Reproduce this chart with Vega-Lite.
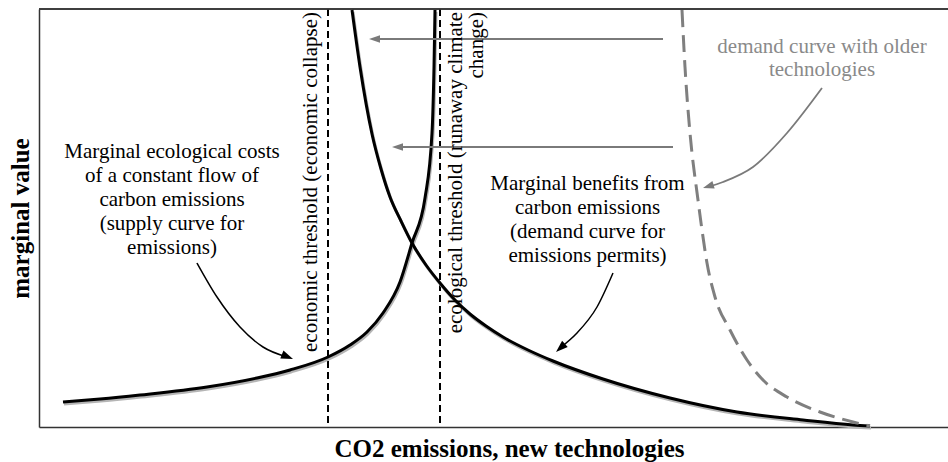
{
  "$schema": "https://vega.github.io/schema/vega-lite/v6.json",
  "width": 909,
  "height": 418,
  "autosize": {"type": "none"},
  "padding": {"left": 39, "top": 9, "right": 0, "bottom": 35},
  "background": "white",
  "config": {
    "view": {"stroke": null},
    "font": "Times New Roman, Liberation Serif, serif",
    "axis": {
      "grid": false, "ticks": false, "labels": false,
      "domainColor": "#333333", "domainWidth": 1.5,
      "titleFont": "Times New Roman, Liberation Serif, serif", "titleFontSize": 25, "titleFontWeight": "bold", "titleColor": "#000000"
    },
    "axisX": {"titleX": 470, "titleY": 29, "titleAlign": "center", "titleBaseline": "alphabetic"},
    "axisY": {"titleX": -19, "titleY": 209, "titleAngle": 270, "titleAlign": "center", "titleBaseline": "middle"}
  },
  "datasets": {
    "curves": [
      {"series": "supply", "x": 24, "y": 25}, {"series": "supply", "x": 61, "y": 28}, {"series": "supply", "x": 101, "y": 32},
      {"series": "supply", "x": 168, "y": 40}, {"series": "supply", "x": 218, "y": 49}, {"series": "supply", "x": 251, "y": 57},
      {"series": "supply", "x": 289, "y": 70}, {"series": "supply", "x": 311, "y": 82}, {"series": "supply", "x": 328, "y": 95},
      {"series": "supply", "x": 344, "y": 114}, {"series": "supply", "x": 361, "y": 145}, {"series": "supply", "x": 373, "y": 184},
      {"series": "supply", "x": 386, "y": 229}, {"series": "supply", "x": 393, "y": 294}, {"series": "supply", "x": 395, "y": 360},
      {"series": "supply", "x": 396, "y": 417},
      {"series": "demand", "x": 313, "y": 417}, {"series": "demand", "x": 321, "y": 360}, {"series": "demand", "x": 333, "y": 293},
      {"series": "demand", "x": 342, "y": 258}, {"series": "demand", "x": 351, "y": 230}, {"series": "demand", "x": 362, "y": 206},
      {"series": "demand", "x": 373, "y": 184}, {"series": "demand", "x": 387, "y": 162}, {"series": "demand", "x": 401, "y": 144},
      {"series": "demand", "x": 416, "y": 127}, {"series": "demand", "x": 431, "y": 113}, {"series": "demand", "x": 447, "y": 101},
      {"series": "demand", "x": 464, "y": 90}, {"series": "demand", "x": 489, "y": 77}, {"series": "demand", "x": 514, "y": 66},
      {"series": "demand", "x": 564, "y": 48}, {"series": "demand", "x": 631, "y": 29}, {"series": "demand", "x": 698, "y": 15},
      {"series": "demand", "x": 764, "y": 7}, {"series": "demand", "x": 814, "y": 2}, {"series": "demand", "x": 831, "y": 1},
      {"series": "older", "x": 643, "y": 417}, {"series": "older", "x": 646, "y": 360}, {"series": "older", "x": 651, "y": 294},
      {"series": "older", "x": 659, "y": 227}, {"series": "older", "x": 663, "y": 197}, {"series": "older", "x": 668, "y": 164},
      {"series": "older", "x": 676, "y": 130}, {"series": "older", "x": 691, "y": 97}, {"series": "older", "x": 708, "y": 67},
      {"series": "older", "x": 724, "y": 47}, {"series": "older", "x": 748, "y": 30}, {"series": "older", "x": 781, "y": 15},
      {"series": "older", "x": 814, "y": 5}, {"series": "older", "x": 831, "y": 1}
    ],
    "thresholds": [{"name": "economic", "x": 289}, {"name": "ecological", "x": 401}],
    "arrows": [
      {"arrow": "h1", "x": 624, "y": 388}, {"arrow": "h1", "x": 336, "y": 388},
      {"arrow": "h2", "x": 634, "y": 280}, {"arrow": "h2", "x": 359, "y": 280},
      {"arrow": "g", "x": 783, "y": 339}, {"arrow": "g", "x": 748, "y": 294}, {"arrow": "g", "x": 714, "y": 260}, {"arrow": "g", "x": 684, "y": 245}, {"arrow": "g", "x": 669, "y": 240},
      {"arrow": "s", "x": 158, "y": 164}, {"arrow": "s", "x": 178, "y": 130}, {"arrow": "s", "x": 201, "y": 100}, {"arrow": "s", "x": 224, "y": 80}, {"arrow": "s", "x": 248, "y": 70},
      {"arrow": "d", "x": 574, "y": 154}, {"arrow": "d", "x": 558, "y": 120}, {"arrow": "d", "x": 538, "y": 94}, {"arrow": "d", "x": 521, "y": 79}
    ],
    "heads": [
      {"arrow": "h1", "x": 330, "y": 388, "angle": 0},
      {"arrow": "h2", "x": 353, "y": 280, "angle": 0},
      {"arrow": "g", "x": 664, "y": 239, "angle": -17},
      {"arrow": "s", "x": 254, "y": 68, "angle": 202},
      {"arrow": "d", "x": 517, "y": 75, "angle": -42}
    ],
    "labels": [
      {"x": 133, "y": 269, "text": "Marginal ecological costs\nof a constant flow of\ncarbon emissions\n(supply curve for\nemissions)"},
      {"x": 548.5, "y": 237, "text": "Marginal benefits from\ncarbon emissions\n(demand curve for\nemissions permits)"}
    ],
    "graylabels": [
      {"x": 783, "y": 374, "text": "demand curve with older\ntechnologies"}
    ],
    "vlabels": [
      {"x": 278, "y": 415, "text": "economic threshold (economic collapse)"},
      {"x": 423, "y": 415, "text": "ecological threshold (runaway climate\nchange)"}
    ]
  },
  "layer": [
    {
      "data": {"name": "thresholds"},
      "mark": {"type": "rule", "color": "#000000", "strokeWidth": 2, "strokeDash": [7, 4]},
      "encoding": {
        "x": {"field": "x", "type": "quantitative", "scale": {"domain": [0, 909], "nice": false, "zero": false}, "title": "CO2 emissions, new technologies"}
      }
    },
    {
      "data": {"name": "thresholds"},
      "mark": {"type": "rule", "color": "#333333", "strokeWidth": 1.5},
      "encoding": {
        "y": {"datum": 418, "type": "quantitative", "scale": {"domain": [0, 418], "nice": false, "zero": false}, "title": "marginal value"}
      }
    },
    {
      "data": {"name": "curves"},
      "transform": [{"filter": "datum.series !== 'older'"}],
      "mark": {"type": "line", "color": "#b5b5b5", "strokeWidth": 3, "interpolate": "monotone", "xOffset": 1, "yOffset": 2},
      "encoding": {
        "x": {"field": "x", "type": "quantitative", "scale": {"domain": [0, 909], "nice": false, "zero": false}, "title": "CO2 emissions, new technologies"},
        "y": {"field": "y", "type": "quantitative", "scale": {"domain": [0, 418], "nice": false, "zero": false}, "title": "marginal value"},
        "detail": {"field": "series"}
      }
    },
    {
      "data": {"name": "curves"},
      "transform": [{"filter": "datum.series !== 'older'"}],
      "mark": {"type": "line", "color": "#000000", "strokeWidth": 3, "interpolate": "monotone"},
      "encoding": {
        "x": {"field": "x", "type": "quantitative", "scale": {"domain": [0, 909], "nice": false, "zero": false}, "title": "CO2 emissions, new technologies"},
        "y": {"field": "y", "type": "quantitative", "scale": {"domain": [0, 418], "nice": false, "zero": false}, "title": "marginal value"},
        "detail": {"field": "series"}
      }
    },
    {
      "data": {"name": "curves"},
      "transform": [{"filter": "datum.series === 'older'"}],
      "mark": {"type": "line", "color": "#7f7f7f", "strokeWidth": 3, "strokeDash": [17, 8], "interpolate": "monotone"},
      "encoding": {
        "x": {"field": "x", "type": "quantitative", "scale": {"domain": [0, 909], "nice": false, "zero": false}, "title": "CO2 emissions, new technologies"},
        "y": {"field": "y", "type": "quantitative", "scale": {"domain": [0, 418], "nice": false, "zero": false}, "title": "marginal value"}
      }
    },
    {
      "data": {"name": "arrows"},
      "transform": [{"filter": "datum.arrow === 'h1' || datum.arrow === 'h2' || datum.arrow === 'g'"}],
      "mark": {"type": "line", "color": "#7a7a7a", "strokeWidth": 1.8, "interpolate": "monotone"},
      "encoding": {
        "x": {"field": "x", "type": "quantitative", "scale": {"domain": [0, 909], "nice": false, "zero": false}, "title": "CO2 emissions, new technologies"},
        "y": {"field": "y", "type": "quantitative", "scale": {"domain": [0, 418], "nice": false, "zero": false}, "title": "marginal value"},
        "detail": {"field": "arrow"}
      }
    },
    {
      "data": {"name": "arrows"},
      "transform": [{"filter": "datum.arrow === 's' || datum.arrow === 'd'"}],
      "mark": {"type": "line", "color": "#000000", "strokeWidth": 1.5, "interpolate": "monotone"},
      "encoding": {
        "x": {"field": "x", "type": "quantitative", "scale": {"domain": [0, 909], "nice": false, "zero": false}, "title": "CO2 emissions, new technologies"},
        "y": {"field": "y", "type": "quantitative", "scale": {"domain": [0, 418], "nice": false, "zero": false}, "title": "marginal value"},
        "detail": {"field": "arrow"}
      }
    },
    {
      "data": {"name": "heads"},
      "transform": [{"filter": "datum.arrow === 'h1' || datum.arrow === 'h2' || datum.arrow === 'g'"}],
      "mark": {"type": "point", "shape": "M0,0L2,-0.7L2,0.7Z", "filled": true, "size": 121, "opacity": 1, "color": "#7a7a7a", "strokeWidth": 0},
      "encoding": {
        "x": {"field": "x", "type": "quantitative", "scale": {"domain": [0, 909], "nice": false, "zero": false}, "title": "CO2 emissions, new technologies"},
        "y": {"field": "y", "type": "quantitative", "scale": {"domain": [0, 418], "nice": false, "zero": false}, "title": "marginal value"},
        "angle": {"field": "angle", "type": "quantitative", "scale": null}
      }
    },
    {
      "data": {"name": "heads"},
      "transform": [{"filter": "datum.arrow === 's' || datum.arrow === 'd'"}],
      "mark": {"type": "point", "shape": "M0,0L2,-0.7L2,0.7Z", "filled": true, "size": 144, "opacity": 1, "color": "#000000", "strokeWidth": 0},
      "encoding": {
        "x": {"field": "x", "type": "quantitative", "scale": {"domain": [0, 909], "nice": false, "zero": false}, "title": "CO2 emissions, new technologies"},
        "y": {"field": "y", "type": "quantitative", "scale": {"domain": [0, 418], "nice": false, "zero": false}, "title": "marginal value"},
        "angle": {"field": "angle", "type": "quantitative", "scale": null}
      }
    },
    {
      "data": {"name": "labels"},
      "mark": {"type": "text", "font": "Times New Roman, Liberation Serif, serif", "fontSize": 21, "lineHeight": 24, "lineBreak": "\n", "align": "center", "baseline": "alphabetic", "color": "#000000"},
      "encoding": {
        "x": {"field": "x", "type": "quantitative", "scale": {"domain": [0, 909], "nice": false, "zero": false}, "title": "CO2 emissions, new technologies"},
        "y": {"field": "y", "type": "quantitative", "scale": {"domain": [0, 418], "nice": false, "zero": false}, "title": "marginal value"},
        "text": {"field": "text"}
      }
    },
    {
      "data": {"name": "graylabels"},
      "mark": {"type": "text", "font": "Times New Roman, Liberation Serif, serif", "fontSize": 21, "lineHeight": 23, "lineBreak": "\n", "align": "center", "baseline": "alphabetic", "color": "#8a8a8a"},
      "encoding": {
        "x": {"field": "x", "type": "quantitative", "scale": {"domain": [0, 909], "nice": false, "zero": false}, "title": "CO2 emissions, new technologies"},
        "y": {"field": "y", "type": "quantitative", "scale": {"domain": [0, 418], "nice": false, "zero": false}, "title": "marginal value"},
        "text": {"field": "text"}
      }
    },
    {
      "data": {"name": "vlabels"},
      "mark": {"type": "text", "font": "Times New Roman, Liberation Serif, serif", "fontSize": 21, "lineHeight": 21, "lineBreak": "\n", "align": "right", "baseline": "alphabetic", "angle": 270, "color": "#000000"},
      "encoding": {
        "x": {"field": "x", "type": "quantitative", "scale": {"domain": [0, 909], "nice": false, "zero": false}, "title": "CO2 emissions, new technologies"},
        "y": {"field": "y", "type": "quantitative", "scale": {"domain": [0, 418], "nice": false, "zero": false}, "title": "marginal value"},
        "text": {"field": "text"}
      }
    }
  ]
}
